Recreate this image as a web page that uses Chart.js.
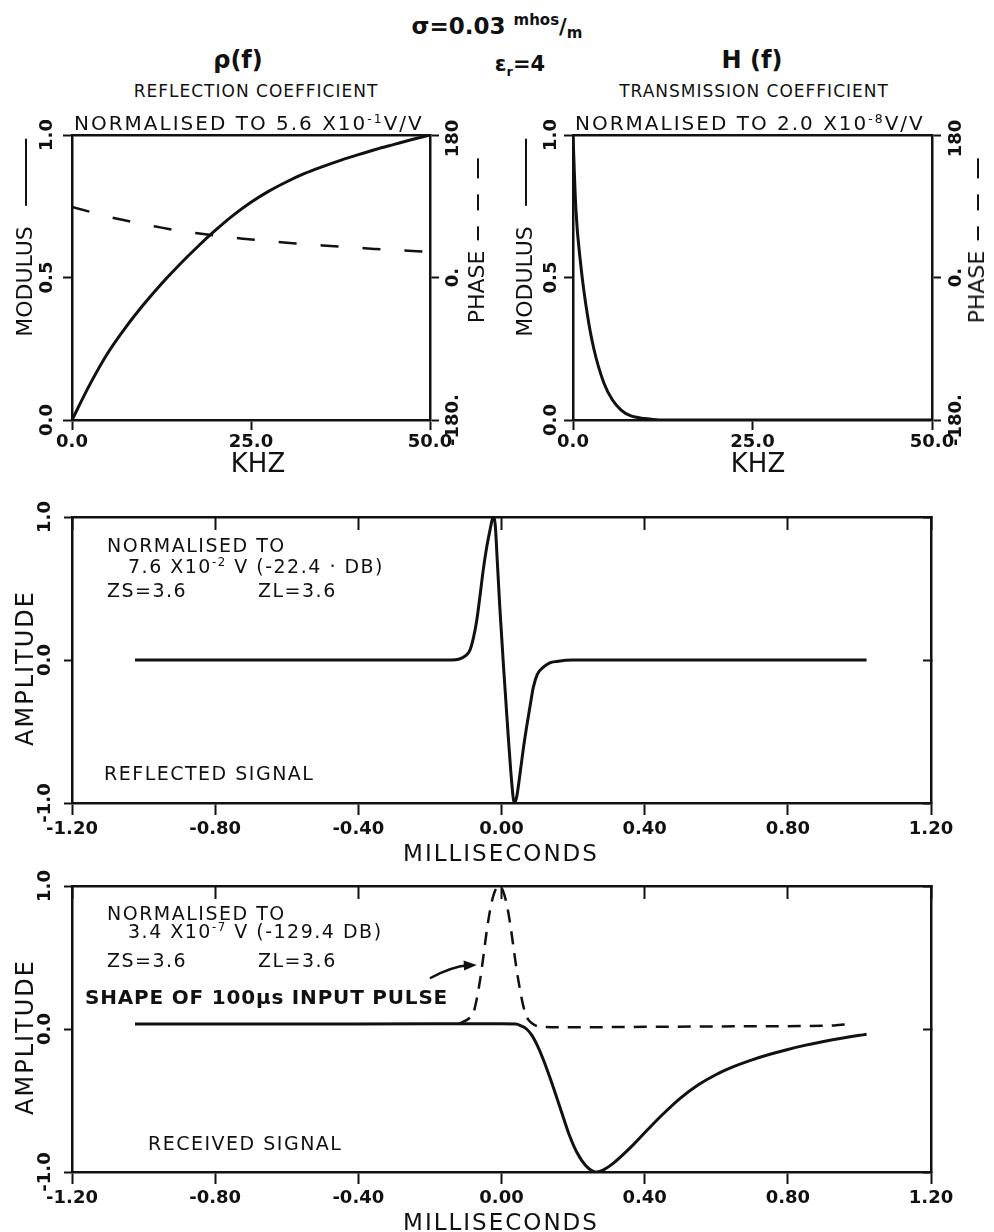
<!DOCTYPE html>
<html>
<head>
<meta charset="utf-8">
<script src="https://cdn.jsdelivr.net/npm/chart.js@4.4.1/dist/chart.umd.min.js"></script>
<style>
  body { margin: 0; background: #fff; }
  #sheet { position: relative; width: 994px; height: 1232px; overflow: hidden; background: #fff; }
  canvas { position: absolute; }
  .t { position: absolute; white-space: nowrap; color: #111; font-family: "DejaVu Sans", sans-serif; line-height: 1; }
  .c { transform: translate(-50%, -50%); }
  .l { transform: translateY(-50%); }
  .v { transform: translate(-50%, -50%) rotate(-90deg); }
  .t sup { font-size: 62%; vertical-align: 0.55em; line-height: 0; }
  .rule { display: inline-block; height: 0; border-top: 2.5px solid #111; vertical-align: middle; }
  .note { font-size: 19px; letter-spacing: 1.5px; }
</style>
</head>
<body>
<div id="sheet">
  <canvas id="rhoChart" width="494" height="360" style="left:0;top:120px"></canvas>
  <canvas id="hChart" width="493" height="360" style="left:501px;top:120px"></canvas>
  <canvas id="reflChart" width="994" height="360" style="left:0;top:500px"></canvas>
  <canvas id="recvChart" width="994" height="363" style="left:0;top:869px"></canvas>

  <!-- headings -->
  <div class="t c" style="left:497px;top:26px;font-size:23px;font-weight:bold">σ=0.03 <span style="font-size:15px;position:relative;top:-9px">mhos</span><span style="font-size:21px">/</span><span style="font-size:15px;position:relative;top:4px">m</span></div>
  <div class="t c" style="left:238px;top:60px;font-size:24px;font-weight:bold">ρ(f)</div>
  <div class="t c" style="left:520px;top:66px;font-size:21px;font-weight:bold">ε<sub style="font-size:13px">r</sub>=4</div>
  <div class="t c" style="left:752px;top:60px;font-size:24px;font-weight:bold">H (f)</div>
  <div class="t c" style="left:256px;top:91px;font-size:17px;letter-spacing:1px">REFLECTION COEFFICIENT</div>
  <div class="t c" style="left:754px;top:91px;font-size:17px;letter-spacing:1px">TRANSMISSION COEFFICIENT</div>
  <div class="t l" style="left:74px;top:123px;font-size:20px;letter-spacing:2px">NORMALISED TO 5.6 X10<sup>-1</sup>V/V</div>
  <div class="t l" style="left:575px;top:123px;font-size:20px;letter-spacing:2px">NORMALISED TO 2.0 X10<sup>-8</sup>V/V</div>

  <!-- frequency panel axis titles -->
  <div class="t v" style="left:25px;top:238px;font-size:22px">MODULUS<i class="rule" style="width:67px;margin-left:20px"></i></div>
  <div class="t v" style="left:477px;top:241px;font-size:22px">PHASE<i class="rule" style="width:14px;margin-left:10px"></i><i class="rule" style="width:16px;margin-left:16px"></i><i class="rule" style="width:20px;margin-left:16px"></i></div>
  <div class="t v" style="left:525px;top:238px;font-size:22px">MODULUS<i class="rule" style="width:67px;margin-left:20px"></i></div>
  <div class="t v" style="left:977px;top:241px;font-size:22px">PHASE<i class="rule" style="width:14px;margin-left:10px"></i><i class="rule" style="width:16px;margin-left:16px"></i><i class="rule" style="width:20px;margin-left:16px"></i></div>
  <div class="t c" style="left:258px;top:463px;font-size:26px">KHZ</div>
  <div class="t c" style="left:758px;top:463px;font-size:26px">KHZ</div>

  <!-- reflected signal panel -->
  <div class="t l note" style="left:107px;top:545px">NORMALISED TO</div>
  <div class="t l note" style="left:128px;top:566px">7.6 X10<sup>-2</sup> V (-22.4 · DB)</div>
  <div class="t l note" style="left:107px;top:590px">ZS=3.6</div>
  <div class="t l note" style="left:258px;top:590px">ZL=3.6</div>
  <div class="t l note" style="left:104px;top:773px">REFLECTED SIGNAL</div>
  <div class="t v" style="left:25px;top:668px;font-size:24px;letter-spacing:2px">AMPLITUDE</div>
  <div class="t c" style="left:501px;top:853px;font-size:23px;letter-spacing:2px">MILLISECONDS</div>

  <!-- received signal panel -->
  <div class="t l note" style="left:107px;top:913px">NORMALISED TO</div>
  <div class="t l note" style="left:128px;top:931px">3.4 X10<sup>-7</sup> V (-129.4 DB)</div>
  <div class="t l note" style="left:107px;top:960px">ZS=3.6</div>
  <div class="t l note" style="left:258px;top:960px">ZL=3.6</div>
  <div class="t l" style="left:85px;top:997px;font-size:20px;font-weight:bold;letter-spacing:0.8px">SHAPE OF 100μs INPUT PULSE</div>
  <div class="t l note" style="left:148px;top:1143px">RECEIVED SIGNAL</div>
  <div class="t v" style="left:25px;top:1037px;font-size:24px;letter-spacing:2px">AMPLITUDE</div>
  <div class="t c" style="left:501px;top:1222px;font-size:23px;letter-spacing:2px">MILLISECONDS</div>
</div>

<script>
const INK = '#111';
const TICK_FONT = { family: "'DejaVu Sans', sans-serif", size: 18, weight: 'bold' };

// reflection coefficient rho(f): normalised modulus and phase in degrees
const rhoKhz     = [0, 2.5, 5, 7.5, 10, 12.5, 15, 17.5, 20, 22.5, 25, 27.5, 30, 32.5, 35, 37.5, 40, 42.5, 45, 47.5, 50];
const rhoModulus = [0, 0.125, 0.235, 0.325, 0.405, 0.478, 0.545, 0.607, 0.665, 0.718, 0.764, 0.803, 0.836, 0.865, 0.889, 0.911, 0.931, 0.95, 0.967, 0.984, 1.0];
const rhoPhase   = [89, 83, 77, 72, 67, 63, 59, 56, 53, 50.5, 48, 46, 44, 42, 40.5, 39, 37.5, 36, 35, 33.5, 32.5];

// transmission coefficient H(f): normalised modulus
const hKhz     = [0, 0.4, 1.1, 2, 2.9, 4.3, 5.5, 6.7, 8, 10, 12, 20, 30, 40, 50];
const hModulus = [1.0, 0.74, 0.54, 0.37, 0.25, 0.13, 0.07, 0.035, 0.015, 0.005, 0, 0, 0, 0, 0];

// reflected signal, normalised amplitude vs ms
const reflMs  = [-1.024, -0.6, -0.2, -0.14, -0.12, -0.10, -0.088, -0.078, -0.069, -0.060, -0.051, -0.042, -0.032, -0.025, -0.021, -0.017, -0.013, -0.005, 0.005, 0.012, 0.019, 0.026, 0.033, 0.037, 0.043, 0.052, 0.061, 0.070, 0.080, 0.089, 0.100, 0.117, 0.135, 0.154, 0.2, 0.6, 1.02];
const reflAmp = [0, 0, 0, 0, 0.005, 0.03, 0.07, 0.16, 0.28, 0.45, 0.63, 0.78, 0.91, 0.99, 1.0, 0.93, 0.75, 0.38, -0.02, -0.28, -0.54, -0.78, -0.97, -1.0, -0.95, -0.79, -0.62, -0.47, -0.32, -0.19, -0.10, -0.05, -0.02, -0.01, 0, 0, 0];

// received signal
const recvMs  = [-1.024, -0.6, -0.2, 0.0, 0.04, 0.055, 0.07, 0.085, 0.1, 0.117, 0.136, 0.155, 0.173, 0.19, 0.21, 0.235, 0.256, 0.266, 0.285, 0.312, 0.36, 0.406, 0.45, 0.5, 0.55, 0.6, 0.65, 0.7, 0.75, 0.8, 0.85, 0.9, 0.95, 1.0, 1.02];
const recvAmp = [0.035, 0.035, 0.036, 0.036, 0.035, 0.022, 0.0, -0.045, -0.115, -0.215, -0.345, -0.485, -0.62, -0.745, -0.86, -0.955, -0.995, -1.0, -0.985, -0.94, -0.83, -0.71, -0.598, -0.483, -0.39, -0.318, -0.262, -0.216, -0.177, -0.143, -0.113, -0.087, -0.064, -0.044, -0.037];

// 100 us input pulse (dashed)
const pulseMs  = [-0.12, -0.107, -0.093, -0.079, -0.07, -0.06, -0.05, -0.041, -0.032, -0.023, -0.013, -0.004, 0.005, 0.014, 0.024, 0.033, 0.042, 0.052, 0.061, 0.070, 0.085, 0.108, 0.2, 0.4, 0.6, 0.8, 0.93, 0.97];
const pulseAmp = [0.035, 0.05, 0.07, 0.11, 0.2, 0.34, 0.52, 0.69, 0.83, 0.93, 0.99, 1.0, 0.96, 0.88, 0.74, 0.58, 0.42, 0.27, 0.16, 0.086, 0.04, 0.016, 0.012, 0.015, 0.018, 0.02, 0.025, 0.035];

// tick positions
const khzTicks   = [0, 25, 50];
const modTicks   = [0, 0.5, 1];
const phaseTicks = [-180, 0, 180];
const msTicks    = [-1.2, -0.8, -0.4, 0, 0.4, 0.8, 1.2];
const ampTicks   = [-1, 0, 1];

// arrow pointing at the input pulse, in (ms, amplitude)
const pulseArrow = { from: [-0.2, 0.355], bend: [-0.135, 0.44], to: [-0.069, 0.448] };

const pts = (xs, ys) => xs.map((x, i) => ({ x, y: ys[i] }));

function lineSet(xs, ys, extra) {
  return Object.assign({
    data: pts(xs, ys),
    borderColor: INK,
    borderWidth: 3,
    pointRadius: 0,
    fill: false,
    cubicInterpolationMode: 'monotone'
  }, extra);
}

function axis(position, min, max, ticks, size, opts = {}) {
  return {
    type: 'linear',
    position, min, max,
    afterFit: s => { s[s.isHorizontal() ? 'height' : 'width'] = size; },
    afterBuildTicks: s => { s.ticks = ticks.map(value => ({ value })); },
    border: { display: true, color: INK, width: 2.5 },
    grid: {
      drawOnChartArea: false,
      drawTicks: !!opts.tick,
      tickLength: opts.tick || 0,
      tickWidth: 2,
      color: INK
    },
    ticks: {
      display: !!opts.labels,
      color: INK,
      font: TICK_FONT,
      padding: opts.pad || 0,
      maxRotation: 0,
      autoSkip: false,
      callback: opts.fmt || (v => String(v))
    }
  };
}

// y tick labels in the plotter style: rotated, reading bottom to top
const sideLabels = {
  id: 'sideLabels',
  afterDraw(chart, args, opts) {
    const { ctx, chartArea } = chart;
    ctx.save();
    ctx.fillStyle = INK;
    ctx.font = "bold 18px 'DejaVu Sans', sans-serif";
    ctx.textAlign = 'center';
    ctx.textBaseline = 'middle';
    (opts.ids || []).forEach(id => {
      const s = chart.scales[id];
      const x = s.position === 'left' ? chartArea.left - opts.left : chartArea.right + opts.right;
      s.ticks.forEach(t => {
        ctx.save();
        ctx.translate(x, s.getPixelForValue(t.value));
        ctx.rotate(-Math.PI / 2);
        ctx.fillText(t.label, 0, 0);
        ctx.restore();
      });
    });
    ctx.restore();
  }
};

// curved arrow with a filled head, placed in data space
const arrowNote = {
  id: 'arrowNote',
  afterDatasetsDraw(chart) {
    const { ctx, scales: { x, y } } = chart;
    const p = ([a, b]) => [x.getPixelForValue(a), y.getPixelForValue(b)];
    const [x0, y0] = p(pulseArrow.from);
    const [cx, cy] = p(pulseArrow.bend);
    const [x1, y1] = p(pulseArrow.to);
    const ang = Math.atan2(y1 - cy, x1 - cx);
    ctx.save();
    ctx.strokeStyle = INK;
    ctx.fillStyle = INK;
    ctx.lineWidth = 2.5;
    ctx.beginPath();
    ctx.moveTo(x0, y0);
    ctx.quadraticCurveTo(cx, cy, x1 - 8 * Math.cos(ang), y1 - 8 * Math.sin(ang));
    ctx.stroke();
    ctx.beginPath();
    ctx.moveTo(x1, y1);
    ctx.lineTo(x1 - 13 * Math.cos(ang) + 5 * Math.sin(ang), y1 - 13 * Math.sin(ang) - 5 * Math.cos(ang));
    ctx.lineTo(x1 - 13 * Math.cos(ang) - 5 * Math.sin(ang), y1 - 13 * Math.sin(ang) + 5 * Math.cos(ang));
    ctx.closePath();
    ctx.fill();
    ctx.restore();
  }
};

function baseOptions(scales, extraPlugins) {
  return {
    responsive: false,
    animation: false,
    devicePixelRatio: 1,
    events: [],
    layout: { padding: 0 },
    plugins: Object.assign({ legend: { display: false }, tooltip: { enabled: false } }, extraPlugins),
    scales
  };
}

const fmt1 = v => v.toFixed(1);
const fmt2 = v => (Math.abs(v) < 1e-9 ? 0 : v).toFixed(2);
const fmtPhase = v => v.toFixed(0) + '.';

// rho(f)
new Chart(document.getElementById('rhoChart'), {
  type: 'line',
  data: {
    datasets: [
      lineSet(rhoKhz, rhoModulus),
      lineSet(rhoKhz, rhoPhase, { yAxisID: 'y2', borderWidth: 2.5, borderDash: [18, 24] })
    ]
  },
  options: baseOptions({
    x:  axis('bottom', 0, 50, khzTicks, 60, { tick: 10, labels: true, pad: 2, fmt: fmt1 }),
    x2: axis('top', 0, 50, khzTicks, 15),
    y:  axis('left', 0, 1, modTicks, 72, { tick: 9, fmt: fmt1 }),
    y2: axis('right', -180, 180, phaseTicks, 64, { tick: 9, fmt: fmtPhase })
  }, { sideLabels: { ids: ['y', 'y2'], left: 25, right: 23 } }),
  plugins: [sideLabels]
});

// H(f)
new Chart(document.getElementById('hChart'), {
  type: 'line',
  data: { datasets: [lineSet(hKhz, hModulus)] },
  options: baseOptions({
    x:  axis('bottom', 0, 50, khzTicks, 60, { tick: 10, labels: true, pad: 2, fmt: fmt1 }),
    x2: axis('top', 0, 50, khzTicks, 15),
    y:  axis('left', 0, 1, modTicks, 72, { tick: 9, fmt: fmt1 }),
    y2: axis('right', -180, 180, phaseTicks, 62, { tick: 9, fmt: fmtPhase })
  }, { sideLabels: { ids: ['y', 'y2'], left: 22, right: 24 } }),
  plugins: [sideLabels]
});

// reflected signal
new Chart(document.getElementById('reflChart'), {
  type: 'line',
  data: { datasets: [lineSet(reflMs, reflAmp)] },
  options: baseOptions({
    x:  axis('bottom', -1.2, 1.2, msTicks, 57, { tick: 12, labels: true, pad: 4, fmt: fmt2 }),
    x2: axis('top', -1.2, 1.2, msTicks, 17, { tick: -13 }),
    y:  axis('left', -1, 1, ampTicks, 72, { tick: 8, fmt: fmt1 }),
    y2: axis('right', -1, 1, ampTicks, 63, { tick: -8 })
  }, { sideLabels: { ids: ['y'], left: 27, right: 0 } }),
  plugins: [sideLabels]
});

// received signal with the input pulse
new Chart(document.getElementById('recvChart'), {
  type: 'line',
  data: {
    datasets: [
      lineSet(recvMs, recvAmp),
      lineSet(pulseMs, pulseAmp, { borderWidth: 2.5, borderDash: [13, 9] })
    ]
  },
  options: baseOptions({
    x:  axis('bottom', -1.2, 1.2, msTicks, 60, { tick: 12, labels: true, pad: 4, fmt: fmt2 }),
    x2: axis('top', -1.2, 1.2, msTicks, 17, { tick: -13 }),
    y:  axis('left', -1, 1, ampTicks, 72, { tick: 8, fmt: fmt1 }),
    y2: axis('right', -1, 1, ampTicks, 63, { tick: -8 })
  }, { sideLabels: { ids: ['y'], left: 27, right: 0 } }),
  plugins: [sideLabels, arrowNote]
});
</script>
</body>
</html>
